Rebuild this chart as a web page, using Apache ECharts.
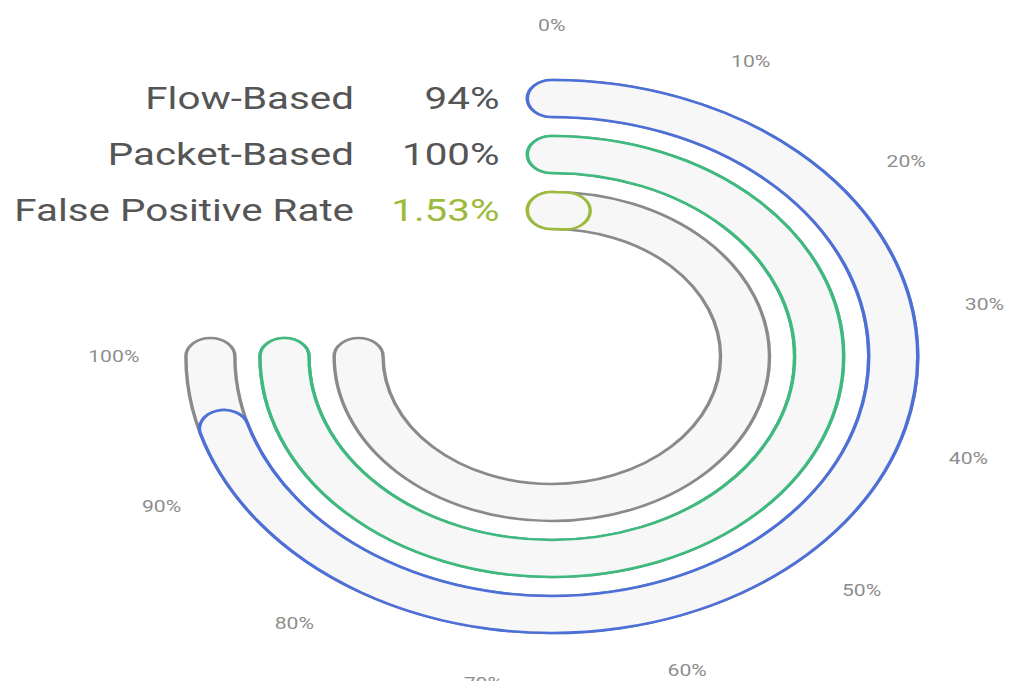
<!DOCTYPE html>
<html>
<head>
<meta charset="utf-8">
<script src="https://cdn.jsdelivr.net/npm/echarts@6/dist/echarts.min.js"></script>
<style>
  html, body { margin: 0; padding: 0; background: #ffffff; overflow: hidden; }
  #wrap { width: 1011px; height: 681px; overflow: hidden; position: relative; }
  #chart { width: 764px; height: 681px; transform: scaleX(1.3233); transform-origin: 0 0; }
</style>
</head>
<body>
<div id="wrap"><div id="chart"></div></div>
<script>
// ---- data ----
const categories = ['False Positive Rate', 'Packet-Based', 'Flow-Based'];
const values = [1.53, 100, 94];
const valueLabels = ['1.53%', '100%', '94%'];
const trackValues = [100, 100, 100];
const tickValues = [0, 10, 20, 30, 40, 50, 60, 70, 80, 90, 100];
const tickLabels = ['0%', '10%', '20%', '30%', '40%', '50%', '60%', '70%', '80%', '90%', '100%'];
const ringColors = ['#9cba3c', '#3dba7e', '#4d70d8'];

const chart = echarts.init(document.getElementById('chart'), null, { renderer: 'svg' });
const FONT = 'Roboto, "Noto Sans", sans-serif';
const CENTER = [417, 356.5];
const angleCfg = { type: 'value', min: 0, max: 100, startAngle: 90, endAngle: -180, clockwise: true, show: false };

chart.setOption({
  animation: false,
  backgroundColor: '#ffffff',
  polar: [
    { center: CENTER, radius: [118, 286] },   // tracks + labels
    { center: CENTER, radius: [0, 331] },     // angle tick labels
    { center: CENTER, radius: [118, 286] }    // value bars
  ],
  angleAxis: [
    Object.assign({ polarIndex: 0 }, angleCfg),
    Object.assign({ polarIndex: 1 }, angleCfg),
    Object.assign({ polarIndex: 2 }, angleCfg)
  ],
  radiusAxis: [
    {
      polarIndex: 0,
      type: 'category',
      data: categories,
      axisLine: { show: false },
      axisTick: { show: false },
      splitLine: { show: false },
      axisLabel: {
        show: true,
        interval: 0,
        margin: 39.5,
        formatter: function (value, index) {
          return '{n|' + value + '}{' + (index === 0 ? 'vo' : 'v') + '|' + valueLabels[index] + '}';
        },
        rich: {
          n: { fontSize: 30.5, color: '#555555', fontFamily: FONT },
          v: { fontSize: 30.5, color: '#555555', fontFamily: FONT, width: 110, align: 'right' },
          vo: { fontSize: 30.5, color: '#9cba3c', fontFamily: FONT, width: 110, align: 'right' }
        }
      }
    },
    { polarIndex: 1, type: 'value', min: 0, max: 1, show: false },
    { polarIndex: 2, type: 'category', data: categories, show: false }
  ],
  series: [
    {
      type: 'bar',
      coordinateSystem: 'polar',
      polarIndex: 0,
      data: trackValues,
      barWidth: 37,
      roundCap: true,
      silent: true,
      z: 1,
      itemStyle: { color: '#f7f7f7', borderColor: '#8a8a8a', borderWidth: 2.6 }
    },
    {
      type: 'bar',
      coordinateSystem: 'polar',
      polarIndex: 2,
      data: values.map(function (v, i) {
        return { value: v, itemStyle: { borderColor: ringColors[i] } };
      }),
      barWidth: 37,
      roundCap: true,
      z: 2,
      itemStyle: { color: '#f7f7f7', borderWidth: 2.6 }
    },
    {
      type: 'scatter',
      coordinateSystem: 'polar',
      polarIndex: 1,
      symbolSize: 0,
      silent: true,
      data: tickValues.map(function (t, i) { return { value: [1, t], name: tickLabels[i] }; }),
      label: {
        show: true,
        position: 'inside',
        formatter: function (p) { return p.name; },
        fontSize: 16,
        color: '#6e6e6e',
        fontFamily: FONT
      }
    }
  ]
});
</script>
</body>
</html>
